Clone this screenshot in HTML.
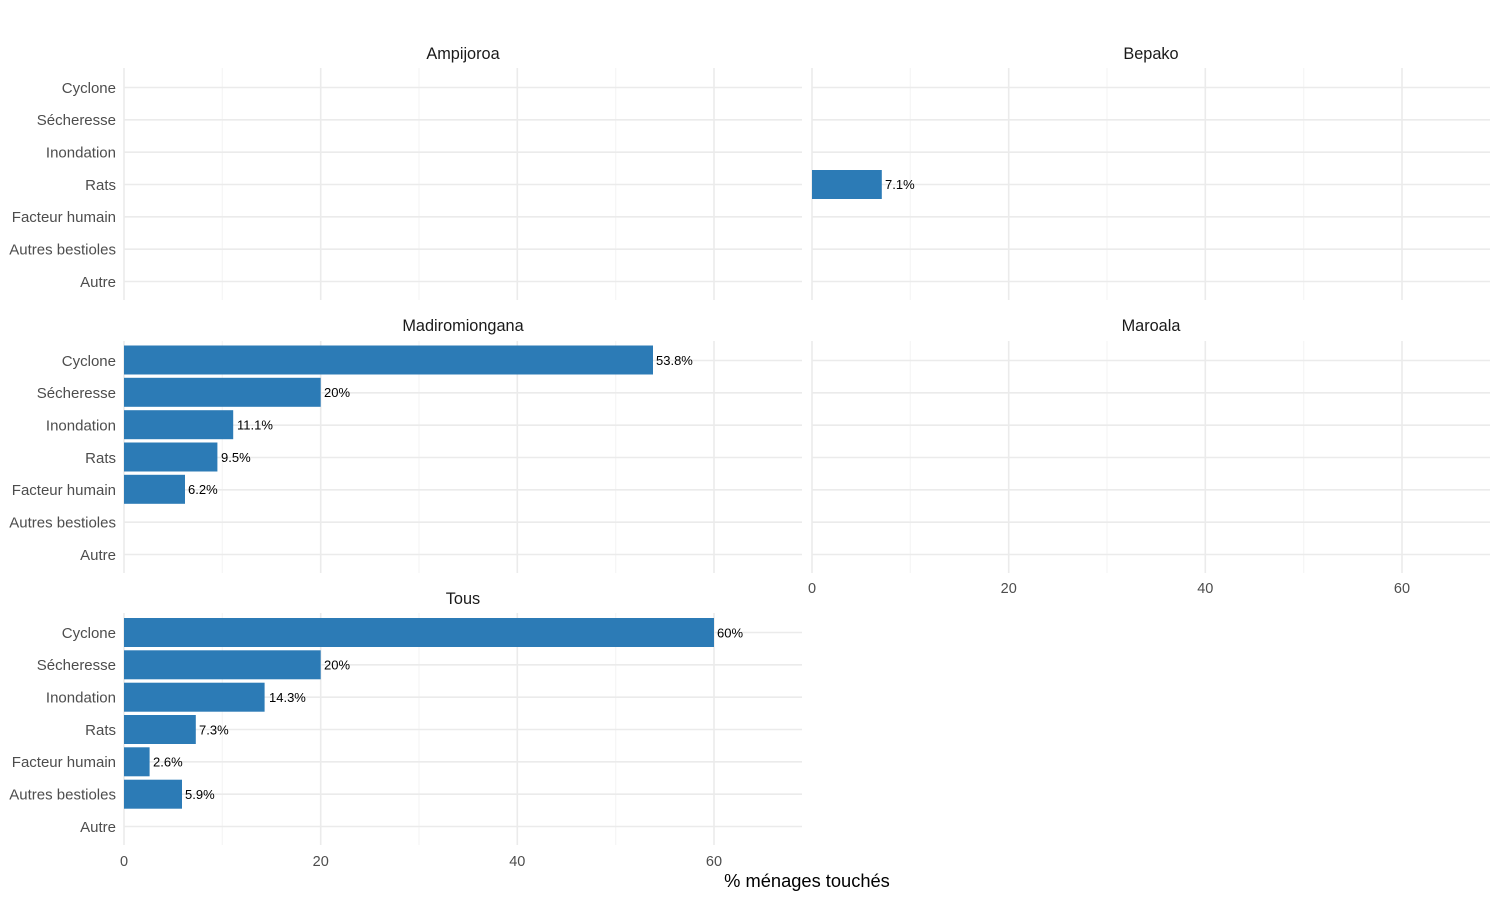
<!DOCTYPE html>
<html><head><meta charset="utf-8"><style>
html,body{margin:0;padding:0;background:#fff;}
svg{display:block;font-family:"Liberation Sans",Arial,sans-serif;}
.cat{font-size:15px;fill:#4d4d4d;text-anchor:end;}
.tick{font-size:14.5px;fill:#4d4d4d;text-anchor:middle;}
.strip{font-size:16.3px;fill:#1a1a1a;text-anchor:middle;}
.val{font-size:13px;fill:#000;}
.maj{stroke:#ebebeb;stroke-width:1.6;}
.min{stroke:#f3f3f3;stroke-width:1;}
.bar{fill:#2c7bb6;}
</style></head><body>
<svg width="1500" height="900" viewBox="0 0 1500 900">
<defs>
<g id="grid">
<line class="min" x1="98.3" x2="98.3" y1="0" y2="232"/>
<line class="min" x1="295" x2="295" y1="0" y2="232"/>
<line class="min" x1="491.7" x2="491.7" y1="0" y2="232"/>
<line class="maj" x1="0" x2="0" y1="0" y2="232"/>
<line class="maj" x1="196.7" x2="196.7" y1="0" y2="232"/>
<line class="maj" x1="393.3" x2="393.3" y1="0" y2="232"/>
<line class="maj" x1="590" x2="590" y1="0" y2="232"/>
<line class="maj" x1="0" x2="678" y1="19.5" y2="19.5"/>
<line class="maj" x1="0" x2="678" y1="51.8" y2="51.8"/>
<line class="maj" x1="0" x2="678" y1="84.2" y2="84.2"/>
<line class="maj" x1="0" x2="678" y1="116.5" y2="116.5"/>
<line class="maj" x1="0" x2="678" y1="148.8" y2="148.8"/>
<line class="maj" x1="0" x2="678" y1="181.2" y2="181.2"/>
<line class="maj" x1="0" x2="678" y1="213.5" y2="213.5"/>
</g>
<g id="cats">
<text class="cat" x="116" y="24.8">Cyclone</text>
<text class="cat" x="116" y="57.1">Sécheresse</text>
<text class="cat" x="116" y="89.5">Inondation</text>
<text class="cat" x="116" y="121.8">Rats</text>
<text class="cat" x="116" y="154.1">Facteur humain</text>
<text class="cat" x="116" y="186.5">Autres bestioles</text>
<text class="cat" x="116" y="218.8">Autre</text>
</g>
</defs>

<text class="strip" x="463" y="59">Ampijoroa</text>
<use href="#grid" x="124" y="68"/>
<use href="#cats" x="0" y="68"/>

<text class="strip" x="1151" y="59">Bepako</text>
<use href="#grid" x="812" y="68"/>
<rect class="bar" x="812" y="170" width="69.8" height="29"/>
<text class="val" x="885" y="188.8">7.1%</text>

<text class="strip" x="463" y="331">Madiromiongana</text>
<use href="#grid" x="124" y="341"/>
<use href="#cats" x="0" y="341"/>
<rect class="bar" x="124" y="345.5" width="529" height="29"/>
<text class="val" x="656" y="364.8">53.8%</text>
<rect class="bar" x="124" y="377.8" width="196.7" height="29"/>
<text class="val" x="324" y="397.1">20%</text>
<rect class="bar" x="124" y="410.2" width="109.2" height="29"/>
<text class="val" x="237" y="429.5">11.1%</text>
<rect class="bar" x="124" y="442.5" width="93.4" height="29"/>
<text class="val" x="221" y="461.8">9.5%</text>
<rect class="bar" x="124" y="474.8" width="61" height="29"/>
<text class="val" x="188" y="494.1">6.2%</text>

<text class="strip" x="1151" y="331">Maroala</text>
<use href="#grid" x="812" y="341"/>
<text class="tick" x="812" y="593">0</text>
<text class="tick" x="1008.7" y="593">20</text>
<text class="tick" x="1205.3" y="593">40</text>
<text class="tick" x="1402" y="593">60</text>

<text class="strip" x="463" y="604">Tous</text>
<use href="#grid" x="124" y="613"/>
<use href="#cats" x="0" y="613"/>
<rect class="bar" x="124" y="618" width="590" height="29"/>
<text class="val" x="717" y="637.3">60%</text>
<rect class="bar" x="124" y="650.3" width="196.7" height="29"/>
<text class="val" x="324" y="669.6">20%</text>
<rect class="bar" x="124" y="682.7" width="140.6" height="29"/>
<text class="val" x="269" y="702">14.3%</text>
<rect class="bar" x="124" y="715" width="71.8" height="29"/>
<text class="val" x="199" y="734.3">7.3%</text>
<rect class="bar" x="124" y="747.3" width="25.6" height="29"/>
<text class="val" x="153" y="766.6">2.6%</text>
<rect class="bar" x="124" y="779.7" width="58" height="29"/>
<text class="val" x="185" y="799">5.9%</text>
<text class="tick" x="124" y="866">0</text>
<text class="tick" x="320.7" y="866">20</text>
<text class="tick" x="517.3" y="866">40</text>
<text class="tick" x="714" y="866">60</text>

<text x="807" y="887" style="font-size:18.3px;fill:#000;text-anchor:middle">% ménages touchés</text>
</svg>
</body></html>
